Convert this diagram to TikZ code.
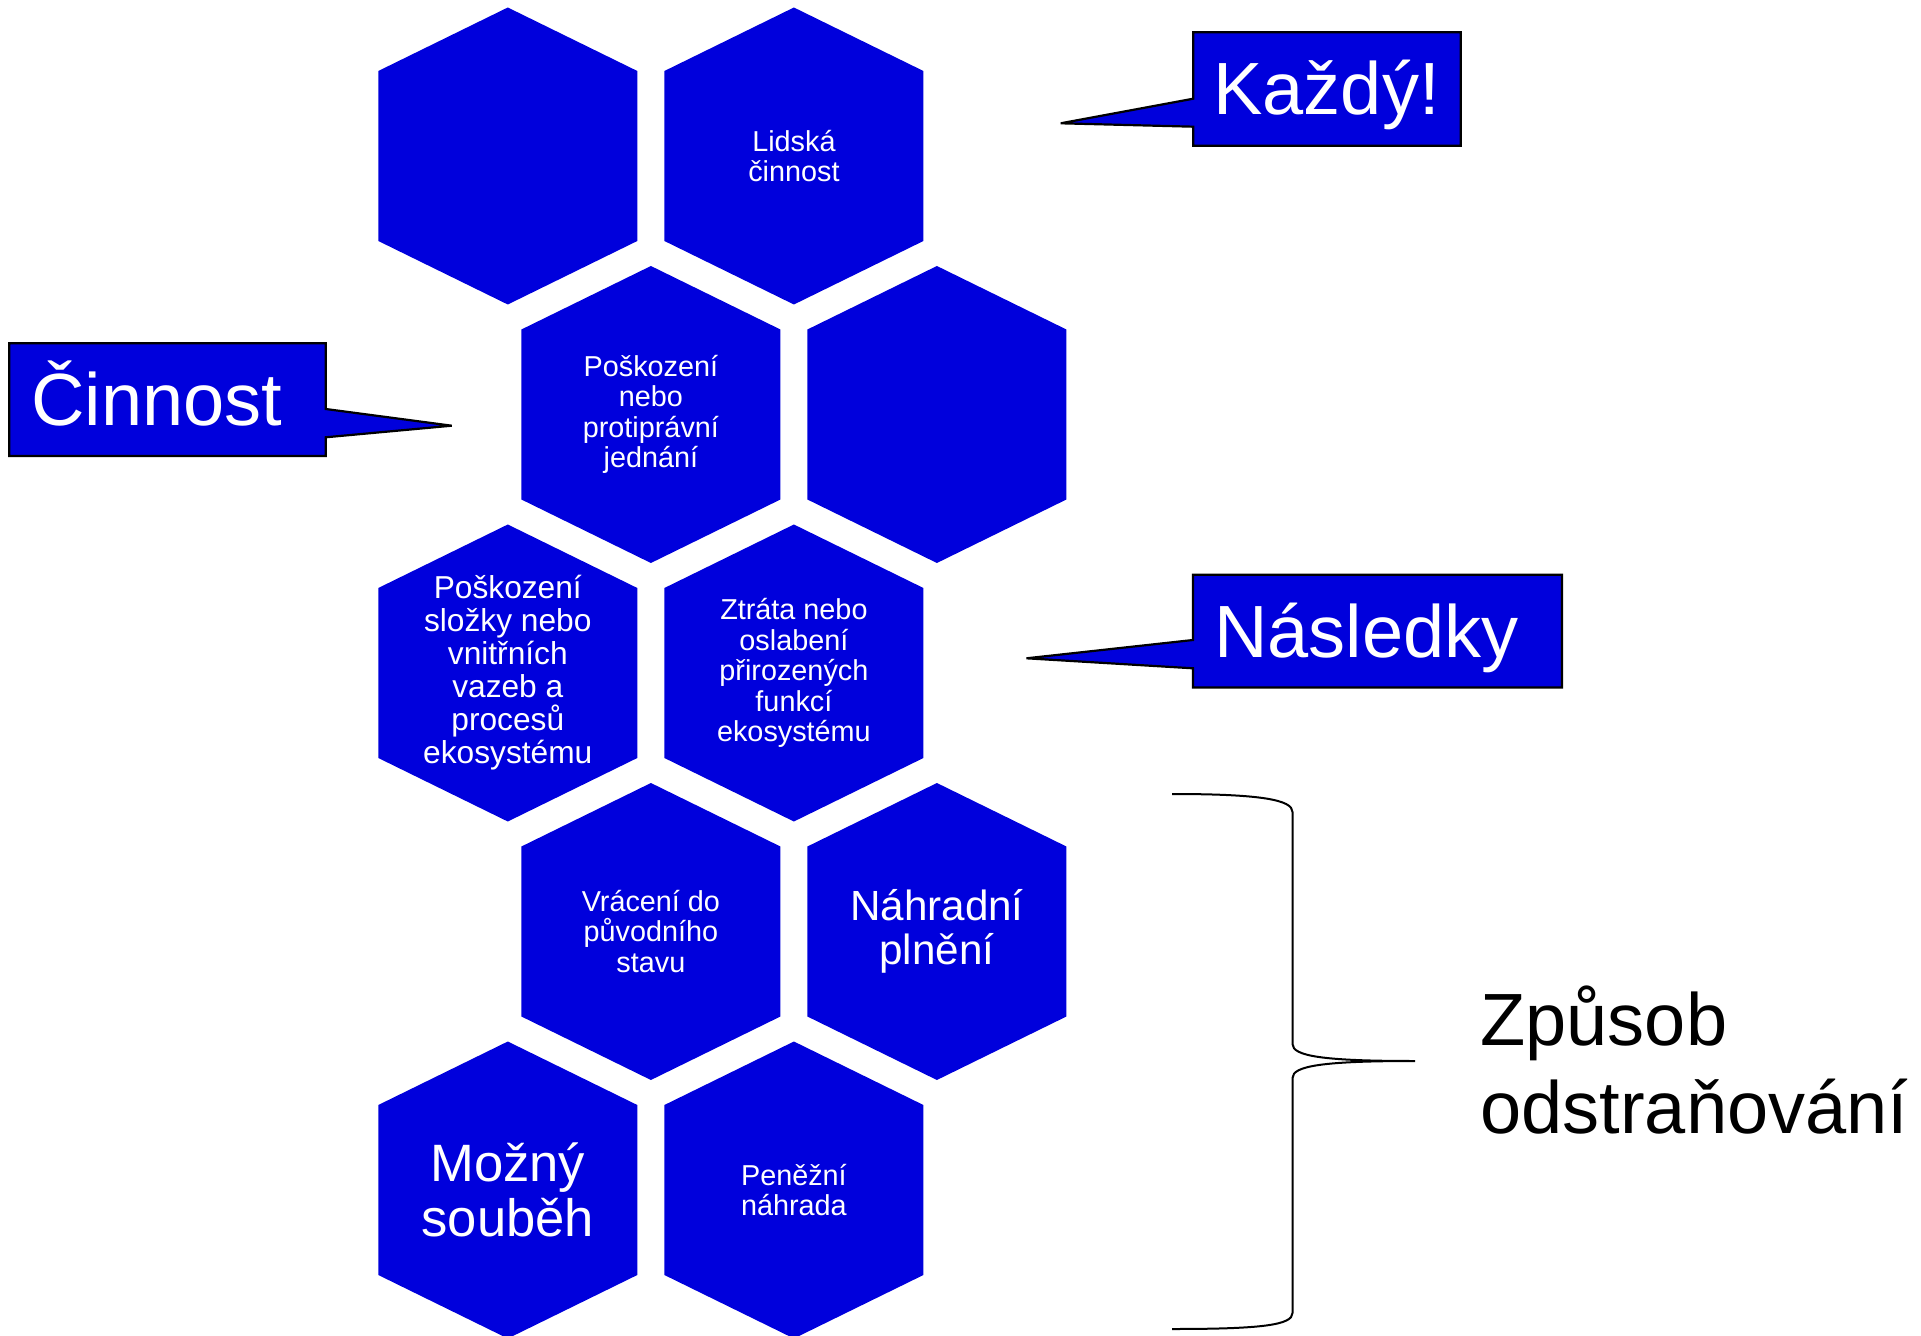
\documentclass[tikz,border=0pt]{standalone}
\usepackage{fontspec}
\setmainfont{Liberation Sans}
\usepackage{xcolor}
\usepackage{tikz}

\definecolor{cellblue}{RGB}{0,0,220}

% font sizes (1 px = 0.5 pt)
\newcommand{\cellsmall}{\fontsize{14.4}{15.2}\selectfont}
\newcommand{\cellmid}{\fontsize{15.85}{16.5}\selectfont}
\newcommand{\cellbig}{\fontsize{21.1}{22}\selectfont}
\newcommand{\cellhuge}{\fontsize{26.3}{27.5}\selectfont}
\newcommand{\calltext}{\fontsize{37}{44}\selectfont}

\tikzset{
  cell/.style={fill=cellblue},
  celltext/.style={text=white, align=center, inner sep=0pt},
  callout/.style={fill=cellblue, draw=black, line width=1.1pt, line join=miter, miter limit=3},
  callword/.style={text=white, font=\calltext, anchor=base west, inner sep=0pt},
  braceline/.style={draw=black, line width=1pt}
}

\begin{document}
\begin{tikzpicture}[x=0.5pt, y=-0.5pt]
    % Parameters
    \def\hw{129.5} % half width of a cell
    \def\hh{148.5} % half height of a cell
    \def\hs{85}    % height of the side corners

    \useasboundingbox (0,0) rectangle (1921,1336);

    % Draw cells
    \foreach \cx/\cy in {507.8/156, 793.9/156, 650.9/414.5, 936.9/414.5,
                         507.8/673, 793.9/673, 650.9/931.5, 936.9/931.5,
                         507.8/1190, 793.9/1190}
        \fill[cell] (\cx,\cy) ++(0,-\hh) -- ++(\hw,\hh-\hs) -- ++(0,2*\hs)
            -- ++(-\hw,\hh-\hs) -- ++(-\hw,\hs-\hh) -- ++(0,-2*\hs) -- cycle;

    % Cell texts
    \node[celltext, font=\cellsmall] (lidska) at (793.9,156) {Lidská\\činnost};
    \node[celltext, font=\cellsmall] (poskozeni) at (650.9,414.5) {Poškození\\nebo\\protiprávní\\jednání};
    \node[celltext, font=\cellmid] (slozky) at (507.8,673) {Poškození\\složky nebo\\vnitřních\\vazeb a\\procesů\\ekosystému};
    \node[celltext, font=\cellsmall] (ztrata) at (793.9,673) {Ztráta nebo\\oslabení\\přirozených\\funkcí\\ekosystému};
    \node[celltext, font=\cellsmall] (vraceni) at (650.9,931.5) {Vrácení do\\původního\\stavu};
    \node[celltext, font=\cellbig] (nahradni) at (936.9,931.5) {Náhradní\\plnění};
    \node[celltext, font=\cellhuge] (soubeh) at (507.8,1190) {Možný\\souběh};
    \node[celltext, font=\cellsmall] (penezni) at (793.9,1190) {Peněžní\\náhrada};

    % Callout: Každý!
    \coordinate (kazdytip) at (1060.7,123.3);
    \filldraw[callout] (1193.3,32.3) -- (1460.7,32.3) -- (1460.7,145.7) -- (1193.3,145.7)
        -- (1193.3,126.7) -- (kazdytip) -- (1193.3,98.7) -- cycle;
    \node[callword] (kazdy) at (1213,115) {Každý!};

    % Callout: Činnost
    \coordinate (cinnosttip) at (451.7,425.7);
    \filldraw[callout] (9.3,343.3) -- (325.7,343.3) -- (325.7,409) -- (cinnosttip)
        -- (325.7,437.3) -- (325.7,456) -- (9.3,456) -- cycle;
    \node[callword] (cinnost) at (31,426) {Činnost};

    % Callout: Následky
    \coordinate (nasledkytip) at (1026.5,658.3);
    \filldraw[callout] (1193,574.8) -- (1562,574.8) -- (1562,687.5) -- (1193,687.5)
        -- (1193,668.3) -- (nasledkytip) -- (1193,640) -- cycle;
    \node[callword] (nasledky) at (1214,657.3) {Následky};

    % Brace
    \draw[braceline] (1172,794) .. controls (1262,794) and (1292.5,800) .. (1292.5,812)
        -- (1292.5,1044) .. controls (1292.5,1056) and (1322,1061) .. (1415,1061)
        .. controls (1322,1061) and (1292.5,1066) .. (1292.5,1078)
        -- (1292.5,1313) .. controls (1292.5,1325) and (1262,1329) .. (1172,1329);
    \node[anchor=base west, align=left, inner sep=0pt, font=\calltext] (zpusob) at (1480,1133) {Způsob\\odstraňování};
\end{tikzpicture}
\end{document}
